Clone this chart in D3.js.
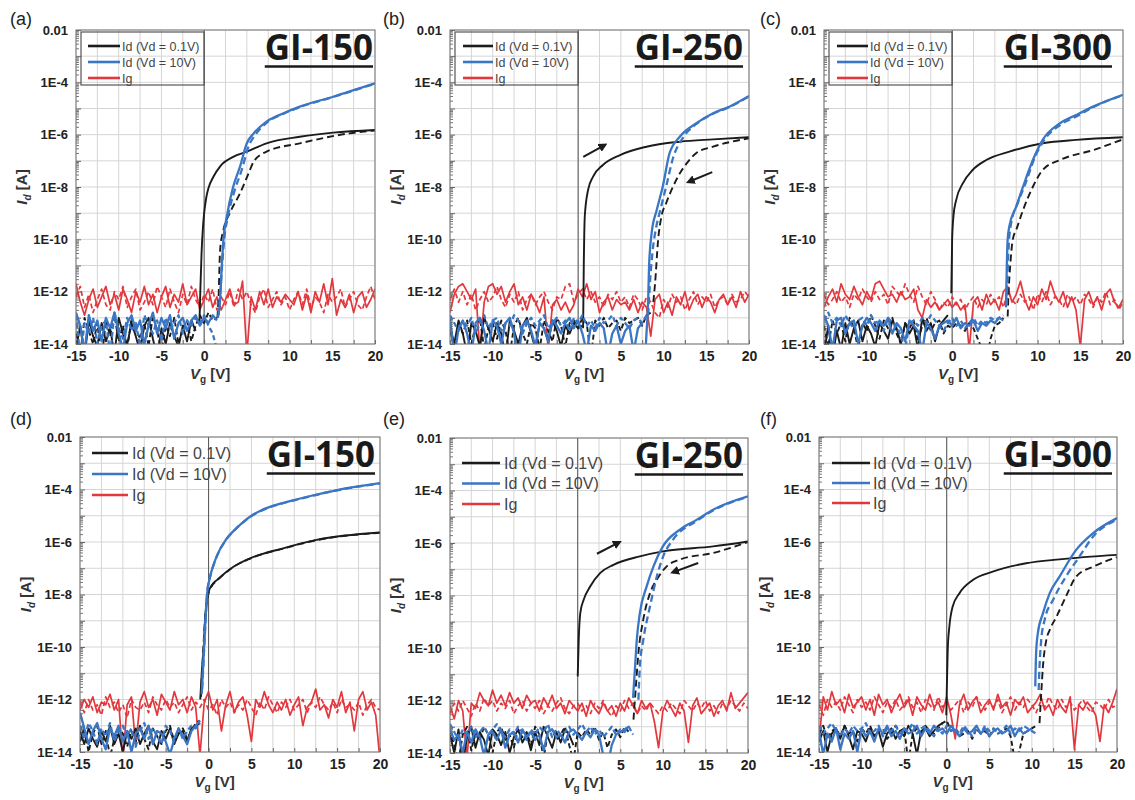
<!DOCTYPE html>
<html>
<head>
<meta charset="utf-8">
<script src="https://cdn.jsdelivr.net/npm/d3@7"></script>
<style>
  body { margin: 0; background: #fff; }
  svg { display: block; font-family: "Liberation Sans", Arial, sans-serif; }
</style>
</head>
<body>
<div id="viz"></div>
<script>
const width = 1135;
const height = 800;

// noise records are sampled from -15 V with 0.5 V steps
const vgStart = -15;
const vgStep = 0.5;

const xTicks = [-15, -10, -5, 0, 5, 10, 15, 20];
const xGrid = [-15, -12.5, -10, -7.5, -5, -2.5, 0, 2.5, 5, 7.5, 10, 12.5, 15, 17.5, 20];
const yTicks = [1e-2, 1e-4, 1e-6, 1e-8, 1e-10, 1e-12, 1e-14];
const yGrid = [1e-2, 1e-3, 1e-4, 1e-5, 1e-6, 1e-7, 1e-8, 1e-9, 1e-10, 1e-11, 1e-12, 1e-13, 1e-14];
const legendLabels = ['Id (Vd = 0.1V)', 'Id (Vd = 10V)', 'Ig'];
const colors = { blk: '#1b1b1b', blu: '#3a76c3', red: '#e2383d' };

// all currents are log10(I [A]); curves are [Vg, log10 I]

// ---- (a) GI-150
const aBlkFwdOff = [-14.2,-13.3,-14.5,-13.1,-13.7,-14.1,-13.2,-13.9,-13.4,-14.4,
  -13.0,-13.6,-14.0,-13.2,-13.7,-14.3,-13.3,-13.0,-13.8,-14.5,
  -13.4,-14.0,-13.2,-13.7,-14.1,-13.3,-13.9,-13.1,-13.5];
const aBlkFwd = [[-0.55,-13.2],[-0.45,-12.0],[-0.3,-10.5],[-0.15,-9.6],[0,-9.0],[0.25,-8.4],[0.5,-8.05],[1.1,-7.6],[1.9,-7.2],[3.4,-6.85],[5,-6.65],[7.3,-6.33],[11.2,-6.08],[15.1,-5.92],[20,-5.82]];
const aBlkRevOff = [-13.6,-14.4,-13.0,-13.5,-14.0,-13.2,-14.6,-13.1,-13.7,-12.9,
  -13.9,-13.3,-14.2,-13.0,-13.4,-13.8,-13.2,-14.1,-12.9,-13.5,
  -14.3,-13.3,-13.7,-13.0,-14.0,-13.4,-13.1,-13.9,-13.3,-12.9,
  -13.2,-12.8,-13.1,-13.0];
const aBlkRev = [[1.55,-13.0],[1.68,-12.3],[1.87,-10.4],[2.26,-9.64],[3,-9.0],[4.2,-8.24],[5.2,-7.48],[5.8,-7.03],[7.3,-6.65],[11.2,-6.33],[17,-5.95],[20,-5.84]];
const aBluFwdOff = [-12.8,-13.3,-14.3,-12.9,-13.5,-13.1,-13.9,-13.0,-13.4,-12.8,
  -13.6,-14.2,-13.2,-12.9,-13.5,-13.1,-14.0,-13.3,-12.8,-13.6,
  -13.0,-13.4,-12.9,-13.8,-13.2,-13.0,-13.5,-13.1,-12.9,-13.3,
  -13.0,-13.2,-12.9,-13.1];
const aBluFwd = [[1.6,-13.0],[1.87,-12.3],[2.07,-11.0],[2.26,-10.0],[2.65,-9.13],[3.4,-7.99],[4.2,-7.22],[5,-6.33],[5.8,-5.95],[7.3,-5.5],[9.3,-5.18],[11.2,-4.93],[15.1,-4.55],[20,-4.04]];
const aBluRevOff = [-12.9,-14.5,-13.2,-13.6,-13.0,-14.0,-13.3,-13.1,-14.4,-12.8,
  -13.4,-13.8,-13.0,-13.5,-13.2,-14.1,-12.9,-13.3,-13.6,-13.1,
  -13.9,-13.0,-13.4,-13.2,-12.9,-13.6,-13.1,-13.3,-13.0,-13.2,
  -12.9,-13.3,-13.6,-14.2];
const aBluRev = [[1.7,-12.9],[1.9,-12.0],[2.1,-11.0],[2.35,-10.0],[2.8,-9.1],[3.6,-8.1],[4.4,-7.35],[5.2,-6.45],[6,-6.0],[7.3,-5.55],[9.3,-5.2],[11.2,-4.95],[15.1,-4.56],[20,-4.05]];
const aIgFwd = [-11.7,-12.4,-12.9,-12.3,-11.9,-12.6,-12.2,-11.8,-12.5,-12.1,
  -12.7,-11.9,-12.3,-12.8,-12.0,-12.4,-11.8,-12.5,-12.1,-12.8,
  -12.2,-11.8,-12.6,-12.1,-12.4,-11.7,-12.5,-12.2,-11.9,-12.7,
  -12.3,-11.9,-12.6,-12.2,-12.7,-12.3,-11.9,-12.5,-12.4,-11.6,
  -14.4,-12.2,-12.7,-12.0,-12.5,-11.9,-12.6,-12.2,-12.4,-12.1,
  -12.3,-12.5,-12.0,-12.7,-12.1,-12.8,-12.0,-12.4,-11.7,-12.5,
  -11.5,-12.9,-12.3,-12.6,-12.1,-12.8,-12.2,-12.0,-12.6,-12.3,-11.9];
const aIgRev = [-12.2,-11.8,-12.6,-12.1,-12.8,-12.3,-11.9,-12.5,-12.7,-12.0,
  -12.3,-11.8,-12.6,-12.2,-11.9,-12.7,-12.4,-12.0,-12.5,-11.8,
  -12.2,-12.6,-11.9,-12.4,-12.8,-12.1,-12.5,-11.8,-12.3,-12.6,
  -12.1,-12.4,-11.9,-12.7,-12.2,-12.5,-12.0,-12.6,-11.9,-12.3,
  -12.0,-12.5,-12.8,-12.2,-11.9,-12.6,-12.3,-12.0,-12.5,-12.2,
  -12.7,-12.3,-12.0,-12.5,-11.9,-12.6,-12.2,-12.4,-12.8,-12.1,
  -12.4,-12.2,-11.9,-12.6,-12.3,-12.0,-12.5,-12.7,-12.2,-11.8,-12.3];

// ---- (b) GI-250
const bBlkFwdOff = [-13.3,-14.0,-13.1,-13.6,-14.4,-13.2,-13.5,-14.1,-13.0,-13.4,
  -13.9,-13.2,-13.6,-14.5,-13.1,-13.5,-14.0,-13.3,-13.0,-13.6,
  -14.2,-13.2,-13.4,-13.9,-13.1,-13.5,-14.1,-13.3,-13.6,-13.2,
  -13.4,-13.3];
const bBlkFwd = [[0.58,-13.4],[0.66,-11.0],[0.78,-9.1],[1.17,-8.1],[1.75,-7.6],[2.9,-7.16],[4.9,-6.78],[8,-6.46],[11.9,-6.27],[15.8,-6.18],[20,-6.1]];
const bBlkRevOff = [-13.5,-14.1,-13.2,-13.6,-13.1,-14.0,-13.3,-13.0,-14.2,-13.4,
  -13.2,-13.8,-13.1,-13.5,-14.4,-13.3,-13.0,-13.6,-14.0,-13.2,
  -13.4,-14.2,-13.1,-13.5,-13.9,-13.0,-13.3,-14.1,-13.2,-13.1,
  -13.4,-13.0,-13.2,-14.5,-13.1,-13.3,-13.0,-13.4,-13.2,-13.1,
  -13.5,-13.0,-13.2,-13.1,-13.0,-13.3,-12.9,-12.8];
const bBlkRev = [[8.8,-12.4],[9,-11.7],[9.36,-10.03],[9.75,-9.13],[10.3,-8.62],[11.1,-7.99],[11.9,-7.48],[12.7,-7.1],[13.8,-6.71],[15.8,-6.46],[20,-6.14]];
const bBluFwdOff = [-13.0,-14.5,-13.4,-13.1,-13.6,-14.4,-13.2,-13.0,-13.5,-14.3,
  -13.1,-13.3,-14.0,-13.2,-13.0,-13.6,-14.5,-13.3,-13.1,-13.5,
  -14.1,-13.2,-13.4,-13.9,-13.1,-13.3,-13.6,-13.2,-13.0,-13.4,
  -13.1,-13.6,-14.3,-13.3,-13.5,-13.2,-13.4,-14.4,-13.6,-13.3,
  -14.0,-13.5,-13.3,-14.3,-13.4,-13.2];
const bBluFwd = [[7.9,-14.2],[8,-13.6],[8.2,-12.3],[8.3,-11.04],[8.6,-9.77],[9.2,-8.88],[9.9,-7.99],[10.7,-6.71],[11.9,-6.08],[13.8,-5.57],[15.8,-5.18],[17.7,-4.93],[20,-4.52]];
const bBluRevOff = [-12.9,-13.2,-13.5,-13.1,-13.3,-13.0,-13.6,-13.2,-12.9,-13.4,
  -13.1,-13.0,-13.5,-13.2,-13.3,-12.9,-13.1,-13.6,-13.2,-13.0,
  -13.3,-13.1,-12.9,-13.4,-13.2,-13.0,-13.3,-13.1,-13.5,-13.0,
  -13.2,-12.9,-13.3,-13.1,-13.4,-13.0,-13.2,-13.1,-12.9,-13.3,
  -13.0,-13.2,-13.4,-13.1,-13.0,-13.2,-12.9];
const bBluRev = [[8.2,-12.9],[8.4,-11.7],[8.7,-10.5],[9.1,-9.6],[9.6,-8.9],[10.3,-7.99],[11.1,-6.9],[12.3,-6.1],[13.8,-5.6],[15.8,-5.2],[17.7,-4.95],[20,-4.53]];
const bIgFwd = [-12.8,-12.1,-11.8,-11.7,-12.0,-12.3,-11.9,-14.3,-12.4,-11.8,
  -11.7,-12.1,-11.8,-12.4,-12.0,-11.7,-12.5,-12.2,-12.7,-12.1,
  -12.4,-12.8,-12.2,-14.2,-12.5,-12.3,-12.7,-12.4,-12.8,-12.5,
  -11.9,-12.2,-11.7,-12.3,-12.0,-12.8,-12.4,-12.2,-12.7,-12.3,
  -12.5,-12.4,-12.7,-12.3,-12.8,-12.4,-12.6,-13.7,-12.3,-12.1,
  -12.8,-12.4,-12.9,-12.2,-12.5,-12.0,-12.7,-12.3,-12.1,-12.6,
  -12.2,-12.4,-12.8,-12.3,-12.1,-12.5,-12.2,-12.6,-12.0,-12.4,-12.1];
const bIgRev = [-12.3,-11.9,-12.4,-12.0,-12.5,-12.1,-12.7,-12.3,-12.0,-12.4,
  -12.2,-11.8,-12.3,-12.6,-12.1,-12.4,-12.0,-12.7,-12.3,-12.1,
  -12.5,-12.2,-12.0,-12.4,-12.7,-12.2,-12.3,-11.8,-11.7,-12.4,
  -12.1,-11.9,-12.3,-12.0,-12.4,-12.2,-12.6,-12.1,-12.3,-12.0,
  -12.4,-12.2,-12.6,-12.1,-12.3,-12.7,-12.2,-12.4,-12.8,-13.0,
  -12.3,-12.6,-12.1,-12.4,-12.2,-12.7,-12.3,-12.0,-12.5,-12.2,
  -12.4,-12.1,-12.6,-12.3,-12.2,-12.5,-12.1,-12.4,-12.3,-12.0,-12.2];
const bArrows = [[[0.6,-6.85],[3.15,-6.39]], [[15.7,-7.43],[12.9,-7.81]]];

// ---- (c) GI-300
const cBlkFwdOff = [-14.4,-13.3,-14.5,-13.5,-14.2,-13.2,-14.0,-13.4,-13.1,-13.9,
  -13.3,-13.6,-14.1,-13.2,-13.5,-13.8,-13.1,-13.4,-14.0,-13.2,
  -13.6,-13.3,-14.2,-13.0,-13.5,-13.2,-13.9,-13.3,-13.1,-12.9];
const cBlkFwd = [[-0.1,-12.06],[0,-10.0],[0.16,-9.1],[0.47,-8.5],[1.25,-7.86],[2.4,-7.35],[4,-6.97],[6.7,-6.65],[10.6,-6.33],[14.5,-6.2],[20,-6.1]];
const cBlkRevOff = [-13.3,-14.1,-13.1,-13.6,-13.2,-13.9,-13.0,-13.4,-14.2,-13.2,
  -13.5,-12.9,-13.3,-13.8,-13.1,-13.4,-13.0,-13.6,-14.0,-13.2,
  -13.4,-13.1,-13.9,-13.3,-13.0,-13.5,-13.2,-13.1,-13.6,-13.3,
  -13.4,-13.2,-13.3,-13.5,-13.2,-13.4,-13.8,-14.2,-14.6,-13.8,
  -13.3,-13.2,-13.0];
const cBlkRev = [[6.5,-12.95],[6.6,-12.06],[6.8,-11.0],[7.1,-10.0],[7.5,-9.64],[8.3,-8.88],[9.45,-7.99],[10.6,-7.35],[12.6,-6.97],[16.5,-6.59],[20,-6.18]];
const cBluFwdOff = [-12.9,-13.3,-14.2,-13.1,-13.0,-13.6,-13.2,-13.1,-14.0,-13.3,
  -13.0,-13.2,-13.5,-13.1,-13.3,-13.0,-13.6,-13.2,-13.4,-13.9,
  -13.1,-13.3,-13.5,-14.3,-13.2,-13.4,-13.8,-13.3,-13.2,-13.1,
  -13.3,-13.0,-13.4,-13.2,-13.3,-13.1,-13.5,-13.2,-13.3,-13.1,
  -13.2,-13.0,-13.1];
const cBluFwd = [[6.3,-12.6],[6.4,-11.0],[6.5,-10.0],[6.7,-9.5],[7.5,-8.75],[8.3,-7.99],[9.45,-6.97],[10.6,-6.2],[12.6,-5.57],[14.5,-5.25],[16.5,-4.93],[20,-4.48]];
const cBluRevOff = [-13.1,-12.8,-13.2,-13.0,-13.3,-12.9,-13.2,-13.4,-13.1,-13.0,
  -13.3,-12.9,-13.2,-13.1,-13.5,-13.0,-13.2,-13.3,-13.7,-14.2,
  -13.2,-13.1,-13.3,-13.0,-13.2,-12.9,-13.1,-13.3,-13.5,-13.2,
  -13.0,-13.3,-13.1,-13.4,-13.2,-13.0,-13.3,-13.1,-13.2,-13.0,
  -13.1,-13.0,-12.9];
const cBluRev = [[6.4,-12.5],[6.5,-11.2],[6.65,-10.1],[6.9,-9.4],[7.7,-8.6],[8.6,-7.85],[9.7,-6.85],[10.9,-6.15],[12.8,-5.6],[14.7,-5.28],[16.5,-4.95],[20,-4.49]];
const cIgFwd = [-12.6,-12.2,-11.9,-12.4,-11.7,-12.1,-12.3,-11.8,-12.2,-12.5,
  -12.0,-12.3,-11.7,-11.6,-11.9,-12.2,-12.1,-12.4,-12.0,-12.3,
  -12.2,-11.9,-12.7,-13.0,-12.3,-12.6,-12.4,-12.7,-12.5,-12.3,
  -12.6,-12.4,-12.7,-12.5,-14.2,-12.4,-12.2,-12.7,-12.1,-12.5,
  -12.3,-12.7,-12.0,-11.8,-12.4,-12.1,-11.6,-12.3,-12.7,-12.2,
  -12.5,-11.9,-12.3,-11.6,-12.1,-12.4,-12.0,-12.6,-12.2,-12.7,
  -14.1,-12.3,-12.0,-12.5,-12.2,-12.7,-12.1,-11.9,-12.4,-12.6,-12.3];
const cIgRev = [-12.1,-12.5,-12.3,-12.0,-12.4,-12.2,-12.6,-12.1,-12.3,-11.9,
  -12.2,-12.4,-12.0,-12.3,-12.1,-12.5,-11.8,-12.0,-12.2,-11.7,
  -12.1,-12.4,-11.8,-12.2,-12.5,-12.0,-12.3,-12.7,-12.4,-12.6,
  -12.2,-12.5,-12.3,-12.7,-12.4,-12.2,-12.6,-12.3,-12.5,-12.1,
  -12.4,-12.2,-12.6,-12.0,-12.3,-12.5,-12.1,-12.4,-12.2,-12.7,
  -12.1,-12.4,-12.0,-12.5,-12.2,-12.3,-12.6,-12.1,-12.4,-12.2,
  -12.5,-12.1,-12.3,-12.6,-12.2,-12.4,-12.0,-12.5,-12.3,-12.7,-12.4];

// ---- (d) GI-150
const dBlkFwdOff = [-13.2,-13.7,-13.1,-13.5,-13.8,-13.2,-13.6,-13.0,-13.7,-13.3,
  -14.0,-13.2,-13.5,-13.1,-13.7,-13.3,-13.0,-13.6,-13.9,-13.2,
  -13.5,-13.1,-13.7,-13.3,-13.2,-13.6,-13.1,-13.0,-12.9];
const dBlkFwd = [[-0.97,-12.0],[-0.78,-10.9],[-0.58,-10.1],[-0.39,-8.85],[-0.19,-8.2],[0,-7.9],[0.39,-7.64],[0.97,-7.45],[2.9,-6.94],[4.85,-6.62],[8.7,-6.24],[12.6,-5.92],[20,-5.64]];
const dBlkRevOff = [-13.6,-13.1,-14.0,-13.3,-13.0,-13.7,-13.2,-14.2,-13.5,-13.1,
  -13.3,-13.8,-13.2,-13.6,-13.0,-13.5,-13.9,-13.1,-13.4,-13.7,
  -13.2,-13.0,-13.6,-13.3,-13.1,-13.5,-13.2,-12.9,-12.8];
const dBlkRev = [[-0.9,-11.9],[-0.7,-10.6],[-0.5,-9.4],[-0.3,-8.5],[0,-7.95],[0.5,-7.62],[1,-7.46],[2.9,-6.95],[4.85,-6.63],[8.7,-6.25],[12.6,-5.93],[20,-5.65]];
const dBluFwdOff = [-12.5,-13.1,-13.7,-13.2,-12.9,-13.5,-13.9,-13.1,-13.4,-13.0,
  -13.6,-13.2,-14.0,-13.3,-13.1,-13.5,-13.0,-13.7,-13.2,-13.3,
  -13.6,-14.1,-13.5,-13.1,-13.4,-13.7,-13.2,-13.0,-12.8];
const dBluFwd = [[-0.8,-11.8],[-0.6,-10.5],[-0.4,-9.2],[-0.2,-8.1],[0.19,-7.3],[0.5,-6.95],[1,-6.5],[2,-5.92],[3,-5.55],[4,-5.25],[5,-5.0],[6,-4.82],[7,-4.68],[8.5,-4.53],[10,-4.4],[12.5,-4.2],[15,-4.02],[20,-3.76]];
const dBluRevOff = [-13.0,-13.5,-12.9,-13.2,-13.7,-13.1,-13.4,-12.9,-13.6,-13.2,
  -13.0,-13.4,-13.1,-13.8,-13.2,-12.9,-13.5,-13.1,-13.4,-13.7,
  -13.0,-13.2,-13.6,-13.1,-13.5,-13.2,-13.0,-13.1,-12.9];
const dBluRev = [[-0.75,-11.6],[-0.55,-10.3],[-0.35,-9.0],[-0.15,-7.9],[0.2,-7.3],[0.5,-6.96],[1,-6.52],[2,-5.93],[3,-5.56],[4,-5.26],[5,-5.01],[6,-4.83],[7,-4.69],[8.5,-4.54],[10,-4.41],[12.5,-4.21],[15,-4.03],[20,-3.77]];
const dIgFwd = [-12.4,-12.0,-12.3,-11.9,-12.5,-12.1,-12.2,-11.8,-12.4,-12.0,
  -14.3,-12.2,-11.9,-13.8,-12.1,-11.7,-12.3,-12.0,-12.6,-11.8,
  -12.1,-12.4,-11.7,-12.2,-12.0,-12.5,-11.9,-12.3,-14.1,-12.1,
  -11.7,-12.4,-12.0,-13.2,-12.2,-11.7,-12.5,-12.1,-11.9,-12.6,
  -13.6,-12.0,-12.3,-11.7,-12.2,-12.5,-12.1,-12.4,-12.0,-12.6,
  -12.2,-11.9,-13.0,-12.3,-12.1,-11.6,-12.4,-12.2,-12.7,-12.0,
  -12.3,-11.7,-12.5,-12.1,-13.2,-12.0,-11.7,-12.4,-12.1,-12.6,-14.3];
const dIgRev = [-12.1,-12.5,-12.0,-12.4,-12.2,-12.6,-11.9,-12.3,-12.1,-12.5,
  -12.2,-12.7,-12.0,-12.3,-12.4,-12.1,-12.5,-11.9,-12.2,-12.4,
  -12.0,-12.3,-12.1,-12.5,-12.2,-11.9,-12.4,-12.1,-12.3,-12.0,
  -12.4,-12.2,-12.6,-12.0,-12.3,-12.1,-12.5,-12.2,-12.4,-12.0,
  -12.3,-12.6,-12.1,-12.4,-11.9,-12.2,-12.5,-12.1,-12.3,-12.0,
  -12.4,-12.2,-12.0,-12.5,-12.1,-12.3,-11.9,-12.2,-12.4,-12.1,
  -12.5,-12.0,-12.3,-12.2,-12.4,-12.1,-12.6,-12.2,-12.0,-12.3,-12.4];

// ---- (e) GI-250
const eBlkFwdOff = [-13.3,-14.0,-13.1,-14.4,-13.4,-13.0,-13.8,-13.2,-13.5,-14.1,
  -13.1,-13.3,-13.7,-13.2,-14.0,-13.4,-13.1,-13.6,-13.3,-13.9,
  -13.2,-13.7,-13.0,-13.4,-13.8,-13.2,-13.6,-13.1,-13.3,-13.7];
const eBlkFwd = [[0,-11.08],[0.12,-9.68],[0.3,-8.67],[0.7,-8.16],[1.48,-7.65],[2.65,-7.14],[4.2,-6.83],[7.3,-6.51],[10,-6.32],[15.9,-6.13],[20,-5.94]];
const eBlkRevOff = [-13.1,-13.7,-14.3,-13.3,-13.0,-13.9,-13.2,-13.5,-13.0,-13.3,
  -14.0,-13.2,-13.0,-13.5,-13.3,-13.8,-13.1,-13.4,-13.2,-13.7,
  -13.0,-13.3,-14.2,-13.2,-13.1,-13.5,-13.3,-13.0,-13.7,-14.3,
  -13.2,-13.4,-13.1,-13.3,-13.0,-13.5,-13.2,-13.8,-13.3,-13.1,
  -13.4,-13.0,-13.2];
const eBlkRev = [[6.55,-12.73],[6.86,-11.33],[7.13,-10.19],[7.7,-8.92],[8.5,-7.9],[9.28,-7.4],[10.45,-6.89],[12,-6.63],[15.9,-6.38],[20,-5.96]];
const eBluFwdOff = [-13.1,-13.5,-13.3,-14.0,-13.2,-13.6,-13.1,-13.4,-14.1,-13.3,
  -13.2,-13.5,-13.1,-13.8,-13.3,-13.2,-13.6,-13.1,-13.4,-13.2,
  -13.5,-13.3,-13.9,-13.2,-13.1,-13.4,-13.3,-13.6,-13.2,-13.1,
  -13.3,-13.5,-13.2,-13.4,-13.1,-13.3,-14.1,-14.5,-13.7,-13.3,
  -13.2,-13.1,-13.0];
const eBluFwd = [[6.5,-11.9],[6.74,-10.7],[6.94,-9.68],[7.3,-8.67],[8.1,-7.65],[8.9,-6.89],[10,-6.13],[12,-5.49],[14,-5.11],[15.9,-4.73],[20,-4.22]];
const eBluRevOff = [-12.9,-13.2,-13.5,-13.1,-13.3,-13.0,-13.4,-13.2,-13.0,-13.3,
  -13.1,-12.9,-13.2,-13.4,-13.1,-13.3,-13.0,-13.2,-13.5,-13.1,
  -13.3,-13.0,-13.2,-12.9,-13.4,-13.1,-13.3,-13.2,-13.0,-13.3,
  -13.1,-12.9,-13.2,-13.0,-13.3,-13.1,-13.4,-13.2,-13.0,-13.3,
  -13.1,-13.2,-13.0,-13.3];
const eBluRev = [[7.13,-11.97],[7.3,-10.7],[7.7,-9.7],[8.5,-8.4],[9.3,-7.27],[10.05,-6.5],[11.2,-5.87],[14,-5.15],[15.9,-4.76],[20,-4.24]];
const eIgFwd = [-12.2,-12.7,-12.0,-12.4,-14.2,-12.1,-12.3,-11.7,-12.0,-12.2,
  -11.6,-12.1,-11.8,-12.2,-11.7,-12.1,-11.9,-12.3,-11.8,-12.1,
  -12.0,-12.4,-11.9,-12.2,-11.8,-12.3,-12.1,-12.5,-12.0,-12.2,
  -12.4,-12.1,-12.6,-12.0,-12.3,-12.5,-12.1,-12.4,-12.2,-12.6,
  -12.1,-12.4,-11.9,-12.2,-12.5,-12.0,-12.3,-12.1,-12.8,-13.8,
  -12.4,-12.0,-12.3,-12.6,-12.1,-12.4,-13.6,-12.2,-11.9,-12.5,
  -12.3,-12.1,-12.6,-12.2,-12.0,-12.4,-11.7,-12.3,-12.1,-11.9,-11.7];
const eIgRev = [-12.5,-12.1,-12.4,-12.0,-12.3,-12.6,-12.1,-12.4,-11.9,-12.2,
  -12.0,-12.4,-12.1,-12.3,-12.0,-12.5,-12.2,-12.0,-12.4,-12.1,
  -12.3,-12.0,-12.5,-12.2,-12.4,-12.1,-11.9,-12.3,-12.5,-12.2,
  -12.1,-12.4,-12.2,-12.5,-12.1,-12.3,-12.0,-12.4,-12.6,-12.2,
  -12.4,-12.0,-12.3,-12.1,-12.5,-12.2,-12.4,-12.1,-12.3,-12.5,
  -12.2,-12.4,-12.1,-12.3,-12.5,-12.0,-12.2,-12.4,-12.1,-12.3,
  -12.0,-12.4,-12.2,-12.5,-12.1,-12.3,-12.0,-12.2,-12.4,-12.1,-12.3];
const eArrows = [[[2.26,-6.41],[4.9,-5.97]], [[14.15,-6.76],[11.15,-7.12]]];

// ---- (f) GI-300
const fBlkFwdOff = [-13.6,-13.2,-14.0,-13.3,-13.1,-13.5,-13.0,-13.4,-13.9,-13.2,
  -13.3,-13.6,-13.1,-13.4,-13.2,-13.8,-13.3,-13.1,-13.5,-13.2,
  -13.4,-13.0,-13.3,-14.1,-13.2,-13.1,-13.4,-13.2,-13.0,-12.9];
const fBlkFwd = [[-0.05,-12.6],[0,-11.77],[0.12,-10.1],[0.31,-9.23],[0.7,-8.46],[1.5,-7.95],[3.06,-7.45],[5.4,-7.13],[9.33,-6.81],[13.25,-6.66],[20,-6.49]];
const fBlkRevOff = [-13.3,-13.0,-13.5,-13.2,-13.1,-13.4,-13.0,-13.3,-13.2,-13.6,
  -13.1,-13.3,-13.0,-13.4,-13.2,-13.1,-13.5,-13.3,-13.0,-13.2,
  -13.1,-14.4,-13.3,-13.1,-13.4,-13.0,-13.2,-13.3,-13.1,-12.9,
  -12.8,-13.2,-13.1,-13.4,-13.3,-13.2,-13.5,-13.1,-13.3,-13.2,
  -13.4,-13.1,-13.3,-13.2,-13.1,-13.4,-14.3,-14.0,-13.3,-13.2,
  -13.1,-13.0];
const fBlkRev = [[10.9,-12.9],[11.1,-11.77],[11.3,-10.75],[11.7,-9.73],[12.1,-9.35],[12.9,-8.84],[14,-8.08],[15.2,-7.32],[17.2,-6.94],[20,-6.58]];
const fBluFwdOff = [-13.2,-14.1,-13.3,-13.6,-13.1,-13.9,-13.3,-13.5,-13.2,-14.0,
  -13.1,-13.4,-13.2,-13.6,-13.1,-13.3,-13.0,-13.4,-13.2,-13.5,
  -13.1,-13.3,-13.2,-13.0,-13.4,-13.1,-13.3,-13.0,-13.2,-13.1,
  -13.3,-13.0,-13.2,-13.4,-13.1,-13.3,-13.2,-13.0,-13.3,-13.1,
  -13.4,-13.2,-13.1,-13.3,-13.2,-13.0,-13.4,-13.1,-13.3,-13.2,
  -13.1];
const fBluFwd = [[10.4,-11.5],[10.5,-10.24],[10.7,-9.48],[11.3,-8.72],[12.1,-7.95],[13.25,-7.32],[15.2,-6.3],[17.2,-5.66],[20,-5.09]];
const fBluRevOff = [-13.0,-13.3,-13.1,-12.9,-13.2,-13.4,-13.1,-13.3,-13.0,-13.2,
  -13.1,-12.9,-13.3,-13.2,-13.0,-13.4,-13.1,-13.2,-13.0,-13.3,
  -13.1,-13.2,-12.9,-13.3,-13.1,-13.0,-13.2,-13.4,-13.1,-13.3,
  -13.0,-13.2,-13.1,-13.3,-13.0,-13.2,-13.4,-13.1,-13.3,-13.0,
  -13.2,-13.1,-13.3,-13.2,-13.0,-13.3,-13.1,-13.2,-13.0,-13.1,
  -13.2,-13.3];
const fBluRev = [[10.8,-11.64],[10.9,-10.75],[11.1,-9.73],[11.5,-8.97],[12.5,-8.2],[14,-7.32],[15.6,-6.55],[17.2,-5.79],[20,-5.15]];
const fIgFwd = [-13.6,-11.9,-12.4,-11.7,-12.2,-12.0,-12.5,-11.8,-12.3,-12.1,
  -11.9,-12.4,-12.0,-12.6,-11.8,-12.2,-12.0,-12.5,-12.1,-11.8,
  -12.3,-12.0,-12.6,-11.9,-12.2,-12.4,-11.8,-12.3,-12.1,-12.5,
  -11.9,-12.6,-13.5,-12.2,-11.8,-12.4,-12.1,-11.9,-12.5,-12.2,
  -12.0,-12.4,-11.8,-12.3,-12.1,-12.6,-12.0,-12.2,-11.9,-12.5,
  -12.3,-12.1,-11.8,-12.4,-12.2,-12.6,-12.0,-12.3,-12.5,-11.9,
  -13.9,-12.2,-12.4,-12.1,-12.3,-12.6,-13.6,-12.2,-12.5,-12.1,-11.6];
const fIgRev = [-12.2,-12.6,-12.0,-12.3,-12.1,-12.4,-11.9,-12.2,-12.5,-12.0,
  -12.3,-12.1,-12.4,-11.9,-12.2,-12.5,-12.1,-12.3,-12.0,-12.4,
  -12.2,-11.9,-12.3,-12.1,-12.5,-12.0,-12.2,-12.4,-11.9,-12.3,
  -12.1,-12.4,-12.2,-12.0,-12.5,-12.1,-12.3,-11.9,-12.2,-12.4,
  -12.1,-12.3,-12.0,-12.5,-12.2,-11.9,-12.4,-12.1,-12.3,-12.0,
  -12.2,-12.5,-12.1,-12.3,-11.9,-12.2,-12.4,-12.0,-12.3,-12.1,
  -12.4,-12.2,-12.0,-12.3,-12.5,-12.1,-12.2,-12.4,-12.0,-12.3,-12.2];

// panel layout (pixel boxes are [left, top, right, bottom])
const panels = [
  { label: '(a)', title: 'GI-150', box: [76, 30, 375, 344], boxed: true, titleEnd: 2,
    leg: { x0: 12, x1: 44, tx: 46, y0: 16, dy: 16, fs: 12.5 },
    ig: [aIgFwd, aIgRev], blk: [aBlkFwdOff, aBlkFwd, aBlkRevOff, aBlkRev], blu: [aBluFwdOff, aBluFwd, aBluRevOff, aBluRev], arrows: [] },
  { label: '(b)', title: 'GI-250', box: [450, 30, 749, 344], boxed: true, titleEnd: 6,
    leg: { x0: 13, x1: 43, tx: 45, y0: 16, dy: 16, fs: 12.5 },
    ig: [bIgFwd, bIgRev], blk: [bBlkFwdOff, bBlkFwd, bBlkRevOff, bBlkRev], blu: [bBluFwdOff, bBluFwd, bBluRevOff, bBluRev], arrows: bArrows },
  { label: '(c)', title: 'GI-300', box: [824, 30, 1123, 344], boxed: true, titleEnd: 11,
    leg: { x0: 13, x1: 44, tx: 46, y0: 16, dy: 16, fs: 12.5 },
    ig: [cIgFwd, cIgRev], blk: [cBlkFwdOff, cBlkFwd, cBlkRevOff, cBlkRev], blu: [cBluFwdOff, cBluFwd, cBluRevOff, cBluRev], arrows: [] },
  { label: '(d)', title: 'GI-150', box: [80, 437, 380, 752], boxed: false, titleEnd: 5,
    leg: { x0: 12, x1: 48, tx: 52, y0: 16, dy: 21, fs: 16 },
    ig: [dIgFwd, dIgRev], blk: [dBlkFwdOff, dBlkFwd, dBlkRevOff, dBlkRev], blu: [dBluFwdOff, dBluFwd, dBluRevOff, dBluRev], arrows: [] },
  { label: '(e)', title: 'GI-250', box: [450, 438, 748, 753], boxed: false, titleEnd: 5,
    leg: { x0: 12, x1: 50, tx: 54, y0: 25, dy: 20.5, fs: 16 },
    ig: [eIgFwd, eIgRev], blk: [eBlkFwdOff, eBlkFwd, eBlkRevOff, eBlkRev], blu: [eBluFwdOff, eBluFwd, eBluRevOff, eBluRev], arrows: eArrows },
  { label: '(f)', title: 'GI-300', box: [819, 437, 1117, 752], boxed: false, titleEnd: 5,
    leg: { x0: 13, x1: 51, tx: 54, y0: 26, dy: 20, fs: 16 },
    ig: [fIgFwd, fIgRev], blk: [fBlkFwdOff, fBlkFwd, fBlkRevOff, fBlkRev], blu: [fBluFwdOff, fBluFwd, fBluRevOff, fBluRev], arrows: [] }
];

const svg = d3.select('#viz')
  .append('svg')
    .attr('width', width)
    .attr('height', height);
const defs = svg.append('defs');
defs.append('marker')
    .attr('id', 'arrowhead')
    .attr('viewBox', '0 0 10 10')
    .attr('refX', 7).attr('refY', 5)
    .attr('markerWidth', 4.5).attr('markerHeight', 4.5)
    .attr('orient', 'auto')
  .append('path')
    .attr('d', 'M0,0L10,5L0,10z')
    .attr('fill', colors.blk);

const noisePts = arr => arr.map((v, i) => [vgStart + i * vgStep, v]);
const formatY = d => d === 1e-2 ? '0.01' : '1E' + Math.round(Math.log10(d));

panels.forEach((p, pi) => {
  const [l, t, r, b] = p.box;
  const x = d3.scaleLinear().domain([-15, 20]).range([l, r]);
  const y = d3.scaleLog().domain([1e-14, 1e-2]).range([b, t]);
  const g = svg.append('g');

  // grid
  g.append('g').selectAll('line').data(xGrid).join('line')
    .attr('x1', d => x(d)).attr('x2', d => x(d)).attr('y1', t).attr('y2', b)
    .attr('stroke', '#d5d5d5').attr('stroke-width', 1);
  g.append('g').selectAll('line').data(yGrid).join('line')
    .attr('x1', l).attr('x2', r).attr('y1', d => y(d)).attr('y2', d => y(d))
    .attr('stroke', '#d5d5d5').attr('stroke-width', 1);

  // zero line
  g.append('line')
    .attr('x1', x(0)).attr('x2', x(0)).attr('y1', t).attr('y2', b)
    .attr('stroke', '#555').attr('stroke-width', 1);

  // axes
  const minor = [];
  for (let e = -14; e < -2; e++) for (let k = 2; k <= 9; k++) minor.push(k * Math.pow(10, e));
  g.append('g').attr('transform', `translate(${l},0)`)
    .call(d3.axisLeft(y).tickValues(minor).tickSize(-3).tickFormat(''))
    .call(a => a.select('.domain').remove())
    .selectAll('line').attr('stroke', '#777');
  g.append('g').attr('transform', `translate(${l},0)`)
    .call(d3.axisLeft(y).tickValues(yGrid).tickSize(-5).tickFormat(d => yTicks.includes(d) ? formatY(d) : '').tickPadding(8))
    .call(a => a.select('.domain').remove())
    .call(a => a.selectAll('line').attr('stroke', '#666'))
    .call(a => a.selectAll('text').attr('font-size', 13).attr('font-weight', 'bold').attr('fill', '#222')
      .attr('font-family', '"Liberation Sans", Arial, sans-serif'));
  g.append('g').attr('transform', `translate(0,${b})`)
    .call(d3.axisBottom(x).tickValues(xGrid).tickSize(-4).tickFormat(d => xTicks.includes(d) ? d : '').tickPadding(7))
    .call(a => a.select('.domain').remove())
    .call(a => a.selectAll('line').attr('stroke', '#666'))
    .call(a => a.selectAll('text').attr('font-size', 14).attr('font-weight', 'bold').attr('fill', '#222')
      .attr('font-family', '"Liberation Sans", Arial, sans-serif'));

  // data
  defs.append('clipPath').attr('id', 'clip' + pi)
    .append('rect').attr('x', l).attr('y', t).attr('width', r - l).attr('height', b - t);
  const plot = g.append('g').attr('clip-path', `url(#clip${pi})`);
  const lineRaw = d3.line().x(d => x(d[0])).y(d => y(Math.pow(10, d[1])));
  const lineSmooth = d3.line().x(d => x(d[0])).y(d => y(Math.pow(10, d[1]))).curve(d3.curveMonotoneX);

  const draw = (pts, gen, color, w, dash) => plot.append('path')
    .attr('d', gen(pts))
    .attr('fill', 'none')
    .attr('stroke', color)
    .attr('stroke-width', w)
    .attr('stroke-linejoin', 'round')
    .attr('stroke-dasharray', dash);

  draw(noisePts(p.ig[1]), lineRaw, colors.red, 1.7, '5,3');
  draw(noisePts(p.ig[0]), lineRaw, colors.red, 1.7, null);
  [[p.blk, colors.blk, 1.9], [p.blu, colors.blu, 2.3]].forEach(([s, c, w]) => {
    draw(noisePts(s[2]), lineRaw, c, w, '5,3');
    draw(s[3], lineSmooth, c, w, '7,4');
    draw(noisePts(s[0]), lineRaw, c, w, null);
    draw(s[1], lineSmooth, c, w, null);
  });

  // hysteresis arrows
  p.arrows.forEach(a => {
    g.append('line')
      .attr('x1', x(a[0][0])).attr('y1', y(Math.pow(10, a[0][1])))
      .attr('x2', x(a[1][0])).attr('y2', y(Math.pow(10, a[1][1])))
      .attr('stroke', colors.blk).attr('stroke-width', 2)
      .attr('marker-end', 'url(#arrowhead)');
  });

  // frame
  g.append('rect')
    .attr('x', l).attr('y', t).attr('width', r - l).attr('height', b - t)
    .attr('fill', 'none').attr('stroke', '#777').attr('stroke-width', 1);

  // legend
  const lg = p.leg;
  if (p.boxed) {
    g.append('rect')
      .attr('x', l + 5).attr('y', t + 2)
      .attr('width', x(0) - l - 5).attr('height', 53)
      .attr('fill', 'none').attr('stroke', '#555').attr('stroke-width', 1.2);
  }
  [colors.blk, colors.blu, colors.red].forEach((c, i) => {
    const yy = t + lg.y0 + i * lg.dy;
    g.append('line')
      .attr('x1', l + lg.x0).attr('x2', l + lg.x1).attr('y1', yy).attr('y2', yy)
      .attr('stroke', c).attr('stroke-width', 2.6);
    g.append('text')
      .attr('x', l + lg.tx).attr('y', yy)
      .attr('dy', '0.36em')
      .attr('font-size', lg.fs)
      .attr('fill', '#444')
      .text(legendLabels[i]);
  });

  // sample name with underline
  const title = g.append('text')
    .attr('x', r - p.titleEnd).attr('y', t + 30)
    .attr('text-anchor', 'end')
    .attr('font-family', '"Open Sans", "Noto Sans", sans-serif')
    .attr('font-weight', 'bold')
    .attr('font-size', 35)
    .attr('fill', '#1a1a1a')
    .text(p.title);
  const tw = title.node().getComputedTextLength();
  g.append('line')
    .attr('x1', r - p.titleEnd - tw).attr('x2', r - p.titleEnd)
    .attr('y1', t + 36.5).attr('y2', t + 36.5)
    .attr('stroke', '#1a1a1a').attr('stroke-width', 2.5);

  // axis titles
  const xt = g.append('text')
    .attr('x', x(0) + 6).attr('y', b + 35)
    .attr('text-anchor', 'middle')
    .attr('font-size', 15).attr('font-weight', 'bold').attr('fill', '#333');
  xt.append('tspan').attr('font-style', 'italic').text('V');
  xt.append('tspan').attr('font-size', 10).attr('dy', 4).text('g');
  xt.append('tspan').attr('dy', -4).text(' [V]');

  const yt = g.append('text')
    .attr('transform', `translate(${l - 49},${(t + b) / 2}) rotate(-90)`)
    .attr('text-anchor', 'middle')
    .attr('font-size', 15).attr('font-weight', 'bold').attr('fill', '#333');
  yt.append('tspan').attr('font-style', 'italic').text('I');
  yt.append('tspan').attr('font-size', 10).attr('dy', 4).attr('font-style', 'italic').text('d');
  yt.append('tspan').attr('dy', -4).text(' [A]');

  // panel label
  svg.append('text')
    .attr('x', pi % 3 === 0 ? 10 : (pi % 3 === 1 ? 383 : 760))
    .attr('y', pi < 3 ? 25 : 425)
    .attr('font-size', 18)
    .attr('fill', '#222')
    .text(p.label);
});
</script>
</body>
</html>
